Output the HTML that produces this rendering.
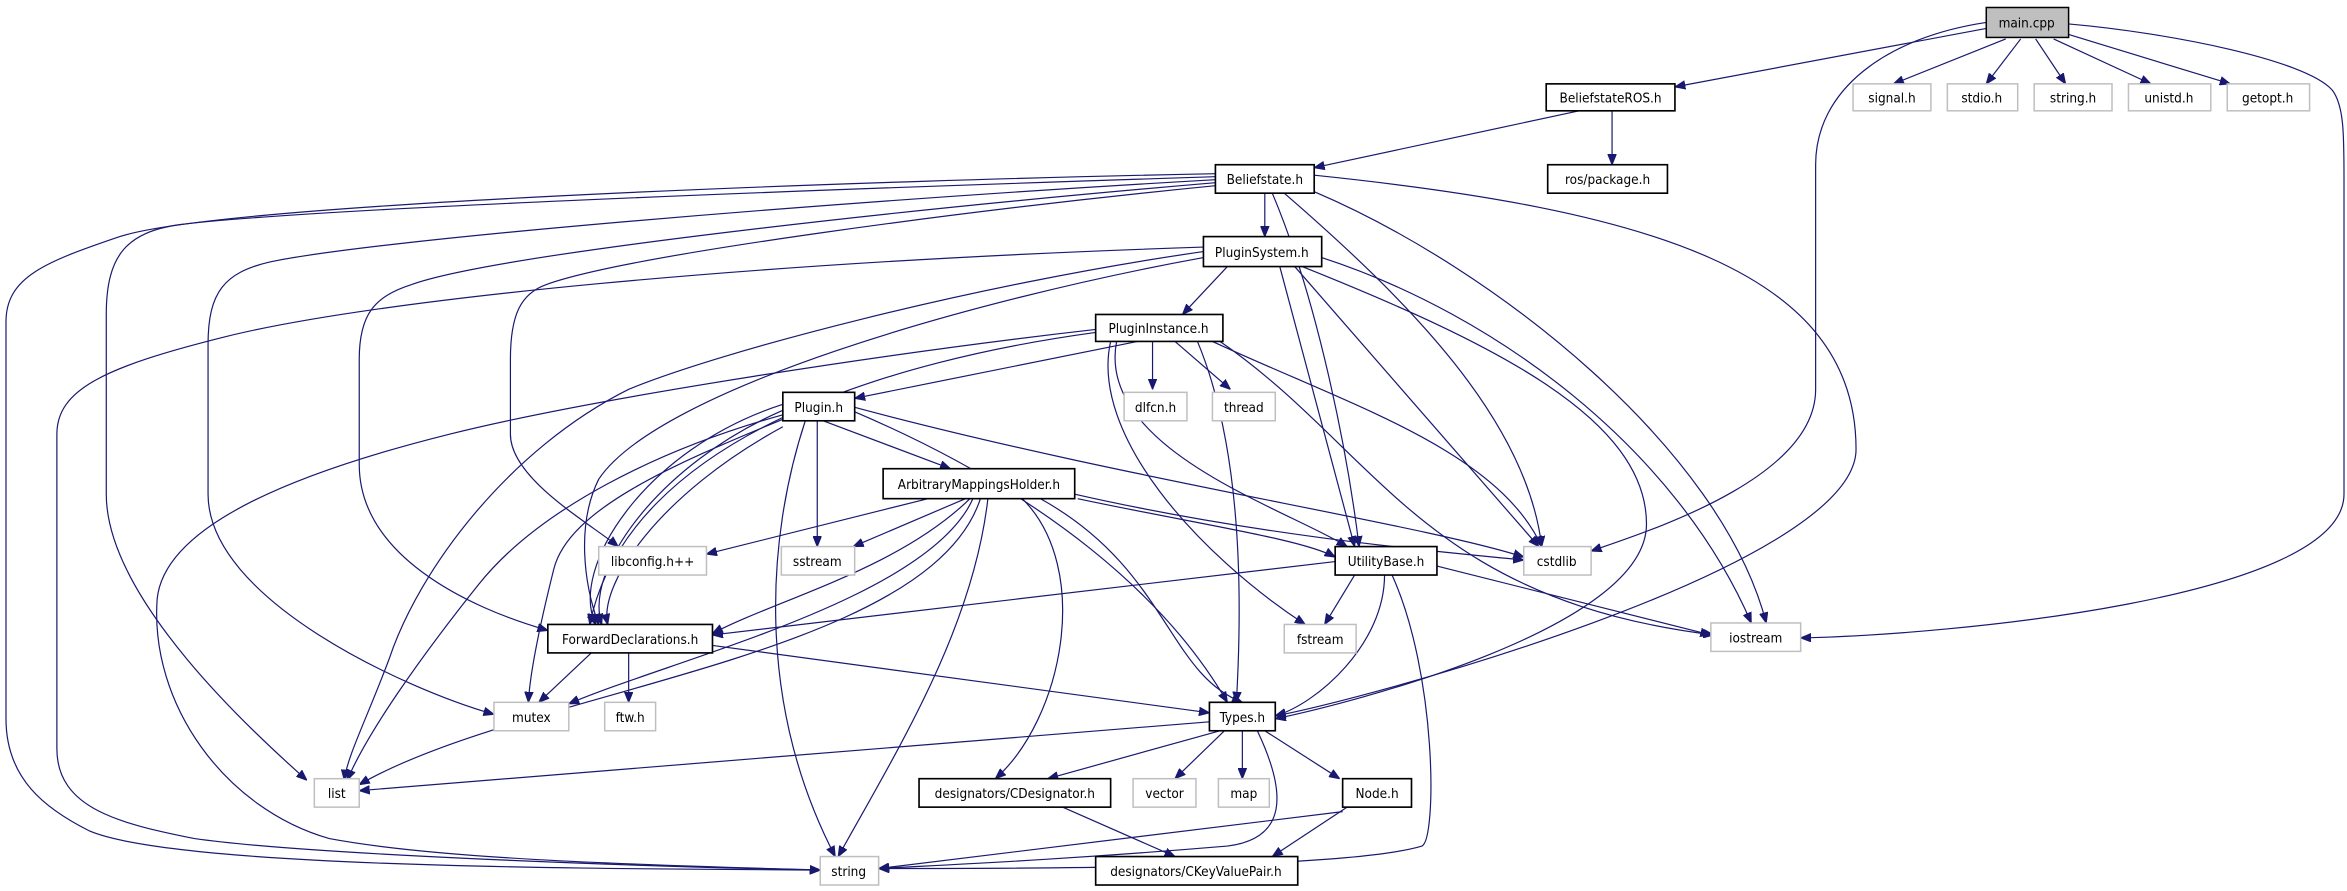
<!DOCTYPE html>
<html><head><meta charset="utf-8"><style>
html,body{margin:0;padding:0;background:#fff;}
svg{display:block}
text{font-family:"DejaVu Sans Condensed","DejaVu Sans","Liberation Sans",sans-serif;font-size:9px;fill:#000;text-anchor:middle;}
.e{fill:none;stroke:#191970;stroke-width:0.8;marker-end:url(#a);}
.b{fill:#fff;stroke:#000;stroke-width:1.1;}
.g{fill:#fff;stroke:#bfbfbf;stroke-width:1;}
</style></head><body>
<svg width="2347" height="891" viewBox="0 0 1568 595" preserveAspectRatio="none" xmlns="http://www.w3.org/2000/svg">
<defs><marker id="a" viewBox="0 0 10 8" refX="10" refY="4" markerWidth="7" markerHeight="6" markerUnits="userSpaceOnUse" orient="auto"><path d="M0,0 L10,4 L0,8 z" fill="#191970" stroke="#191970"/></marker></defs>
<g>
<!-- main.cpp -->
<path class="e" d="M1327,19 L1119,58"/>
<path class="e" d="M1340,26 L1265,56"/>
<path class="e" d="M1350,26 L1327,56"/>
<path class="e" d="M1360,26 L1380,56"/>
<path class="e" d="M1372,26 L1437,56"/>
<path class="e" d="M1382,23 L1490,56"/>
<path class="e" d="M1327,15 C1260,25 1213,60 1213,110 L1213,260 C1213,320 1100,355 1063,368"/>
<path class="e" d="M1382,16 C1450,22 1540,40 1558,60 C1566,70 1566,90 1566,120 L1566,330 C1566,400 1300,424 1203,426"/>
<!-- BeliefstateROS -->
<path class="e" d="M1055,74 L878,112"/>
<path class="e" d="M1077,74 L1077,110"/>
<!-- Beliefstate -->
<path class="e" d="M845,129 L845,158"/>
<path class="e" d="M812,116 C600,120 150,135 80,158 C30,175 4,185 4,215 L4,480 C4,520 30,540 60,555 C120,580 400,580 548,581"/>
<path class="e" d="M812,118 C500,128 200,140 120,150 C85,155 71,170 71,210 L71,330 C71,400 170,490 205,521"/>
<path class="e" d="M812,120 C550,135 250,160 180,175 C150,182 139,195 139,230 L139,330 C139,400 270,460 330,477"/>
<path class="e" d="M812,122 C600,140 330,170 275,190 C250,198 240,210 240,240 L240,310 C240,370 310,405 366,421"/>
<path class="e" d="M812,124 C650,140 420,170 365,190 C348,196 341,210 341,240 L341,290 C341,320 395,350 413,365"/>
<path class="e" d="M850,129 C880,200 900,300 908,365"/>
<path class="e" d="M858,129 C940,200 1020,280 1030,365"/>
<path class="e" d="M878,128 C1000,180 1150,300 1180,416"/>
<path class="e" d="M878,117 C1100,140 1240,180 1240,300 C1240,380 900,470 852,478"/>
<!-- PluginSystem -->
<path class="e" d="M820,178 L790,210"/>
<path class="e" d="M855,178 L905,365"/>
<path class="e" d="M865,178 L1028,365"/>
<path class="e" d="M883,172 C1000,210 1120,300 1170,416"/>
<path class="e" d="M870,178 C1000,230 1100,280 1100,350 C1100,420 900,470 852,480"/>
<path class="e" d="M804,172 C650,200 440,260 400,320 C385,350 390,390 400,417"/>
<path class="e" d="M804,168 C650,190 480,235 420,260 C340,300 280,380 260,440 C245,480 232,505 230,521"/>
<path class="e" d="M804,165 C500,175 250,200 150,225 C70,245 38,260 38,290 L38,500 C38,540 80,550 130,560 C200,570 400,578 548,581"/>
<!-- PluginInstance -->
<path class="e" d="M760,228 L571,266"/>
<path class="e" d="M770,228 L770,260"/>
<path class="e" d="M785,228 L822,260"/>
<path class="e" d="M732,222 C600,240 420,290 394,417"/>
<path class="e" d="M732,220 C600,235 400,265 300,290 C200,315 110,350 105,400 C100,470 150,540 220,560 C300,575 450,578 548,581"/>
<path class="e" d="M800,228 C830,300 830,400 826,469"/>
<path class="e" d="M742,228 C728,290 800,370 872,417"/>
<path class="e" d="M746,228 C732,300 860,340 900,365"/>
<path class="e" d="M810,228 C900,270 1000,300 1030,365"/>
<path class="e" d="M815,228 C920,300 950,400 1145,424"/>
<!-- Plugin.h -->
<path class="e" d="M550,281 L635,313"/>
<path class="e" d="M546,281 L546,365"/>
<path class="e" d="M538,281 C512,360 505,470 558,572"/>
<path class="e" d="M523,277 C440,300 360,340 320,390 C280,440 245,490 232,521"/>
<path class="e" d="M523,280 C450,310 380,340 370,380 C360,420 354,450 353,469"/>
<path class="e" d="M523,270 C430,300 380,380 398,417"/>
<path class="e" d="M523,274 C440,310 390,380 402,417"/>
<path class="e" d="M523,285 C440,330 400,390 406,417"/>
<path class="e" d="M571,275 C700,330 780,400 820,469"/>
<path class="e" d="M571,272 C750,320 950,350 1018,372"/>
<!-- ArbitraryMappingsHolder -->
<path class="e" d="M620,333 L472,370"/>
<path class="e" d="M645,333 L570,365"/>
<path class="e" d="M648,333 C600,380 520,400 476,423"/>
<path class="e" d="M650,333 C620,400 450,440 380,470"/>
<path class="e" d="M655,333 C620,440 350,460 240,524"/>
<path class="e" d="M660,333 C650,420 600,500 560,572"/>
<path class="e" d="M683,333 C730,380 710,480 665,520"/>
<path class="e" d="M695,333 C780,380 780,450 830,469"/>
<path class="e" d="M720,333 C800,350 870,360 892,372"/>
<path class="e" d="M718,330 C850,360 980,370 1018,374"/>
<!-- UtilityBase -->
<path class="e" d="M892,375 L476,424"/>
<path class="e" d="M905,384 L885,417"/>
<path class="e" d="M925,384 C925,430 880,470 852,478"/>
<path class="e" d="M960,378 L1143,424"/>
<path class="e" d="M930,384 C960,450 960,560 950,565 C900,580 700,580 587,580"/>
<!-- ForwardDeclarations -->
<path class="e" d="M395,436 L360,469"/>
<path class="e" d="M420,436 L420,469"/>
<path class="e" d="M476,431 L808,476"/>
<!-- Types -->
<path class="e" d="M808,482 L240,528"/>
<path class="e" d="M815,488 L700,520"/>
<path class="e" d="M818,488 L785,520"/>
<path class="e" d="M830,488 L830,520"/>
<path class="e" d="M845,488 L895,520"/>
<path class="e" d="M840,488 C860,530 860,560 820,565 C700,575 620,578 587,580"/>
<!-- bottom -->
<path class="e" d="M710,539 L785,572"/>
<path class="e" d="M900,539 L850,572"/>
<path class="e" d="M897,542 L587,580"/>
</g>
<g>
<rect x="1327" y="5" width="55" height="20" fill="#bfbfbf" stroke="#000" stroke-width="1"/><text x="1354" y="18.5">main.cpp</text>
<rect class="b" x="1033" y="56" width="86" height="18"/><text x="1076" y="68.5">BeliefstateROS.h</text>
<rect class="g" x="1238" y="56" width="52" height="18"/><text x="1264" y="68.5">signal.h</text>
<rect class="g" x="1301" y="56" width="47" height="18"/><text x="1324" y="68.5">stdio.h</text>
<rect class="g" x="1359" y="56" width="52" height="18"/><text x="1385" y="68.5">string.h</text>
<rect class="g" x="1422" y="56" width="55" height="18"/><text x="1449" y="68.5">unistd.h</text>
<rect class="g" x="1488" y="56" width="55" height="18"/><text x="1515" y="68.5">getopt.h</text>
<rect class="b" x="812" y="110" width="66" height="19"/><text x="845" y="123">Beliefstate.h</text>
<rect class="b" x="1034" y="110" width="80" height="19"/><text x="1074" y="123">ros/package.h</text>
<rect class="b" x="804" y="158" width="79" height="20"/><text x="843" y="171.5">PluginSystem.h</text>
<rect class="b" x="732" y="210" width="85" height="18"/><text x="774" y="222.5">PluginInstance.h</text>
<rect class="g" x="751" y="262" width="42" height="19"/><text x="772" y="275">dlfcn.h</text>
<rect class="g" x="810" y="262" width="42" height="19"/><text x="831" y="275">thread</text>
<rect class="b" x="523" y="262" width="48" height="19"/><text x="547" y="275">Plugin.h</text>
<rect class="b" x="590" y="313" width="128" height="20"/><text x="654" y="326.5">ArbitraryMappingsHolder.h</text>
<rect class="g" x="400" y="365" width="72" height="19"/><text x="436" y="378">libconfig.h++</text>
<rect class="g" x="522" y="365" width="49" height="19"/><text x="546" y="378">sstream</text>
<rect class="b" x="892" y="365" width="68" height="19"/><text x="926" y="378">UtilityBase.h</text>
<rect class="g" x="1018" y="365" width="45" height="19"/><text x="1040" y="378">cstdlib</text>
<rect class="b" x="366" y="417" width="110" height="19"/><text x="421" y="430">ForwardDeclarations.h</text>
<rect class="g" x="858" y="417" width="48" height="19"/><text x="882" y="430">fstream</text>
<rect class="g" x="1143" y="416" width="60" height="19"/><text x="1173" y="429">iostream</text>
<rect class="g" x="330" y="469" width="50" height="19"/><text x="355" y="482">mutex</text>
<rect class="g" x="404" y="469" width="34" height="19"/><text x="421" y="482">ftw.h</text>
<rect class="b" x="808" y="469" width="44" height="19"/><text x="830" y="482">Types.h</text>
<rect class="g" x="210" y="520" width="30" height="19"/><text x="225" y="533">list</text>
<rect class="b" x="614" y="520" width="128" height="19"/><text x="678" y="533">designators/CDesignator.h</text>
<rect class="g" x="757" y="520" width="42" height="19"/><text x="778" y="533">vector</text>
<rect class="g" x="814" y="520" width="34" height="19"/><text x="831" y="533">map</text>
<rect class="b" x="897" y="520" width="46" height="19"/><text x="920" y="533">Node.h</text>
<rect class="g" x="548" y="572" width="39" height="19"/><text x="567" y="585">string</text>
<rect class="b" x="732" y="572" width="135" height="19"/><text x="799" y="585">designators/CKeyValuePair.h</text>
</g>
</svg>
</body></html>
